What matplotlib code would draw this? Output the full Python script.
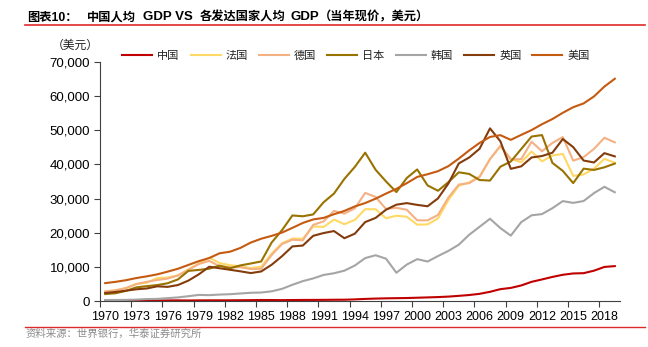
import matplotlib
matplotlib.use("Agg")
import matplotlib.pyplot as plt
from matplotlib.ticker import FuncFormatter, FixedLocator, NullFormatter
from matplotlib.lines import Line2D

years = list(range(1970, 2020))

china = [113, 119, 132, 157, 160, 178, 165, 185, 156, 183, 195, 197, 203, 225, 251, 294, 282, 252, 284, 311,
         318, 333, 366, 377, 473, 610, 709, 782, 829, 873, 959, 1053, 1149, 1289, 1509, 1753, 2099, 2694, 3468, 3832,
         4550, 5618, 6317, 7051, 7679, 8067, 8148, 8879, 9977, 10217]
france = [2858, 3116, 3812, 4998, 5343, 6728, 6884, 7525, 9247, 11018, 12713, 11106, 10496, 10155, 9656, 10047, 13892, 16918, 18287, 18255,
          21832, 21695, 23852, 22489, 23751, 26890, 26871, 24229, 24975, 24674, 22364, 22433, 24177, 29568, 33741, 34760, 36470, 41508, 45413, 41575,
          40638, 43791, 40875, 42603, 43069, 36653, 37063, 38781, 41631, 40494]
germany = [2761, 3141, 3767, 4968, 5614, 6152, 6564, 7466, 9128, 10827, 11749, 10209, 9914, 9879, 9358, 9429, 13464, 16677, 17941, 17765,
           22304, 23305, 26392, 25592, 27133, 31658, 30487, 26964, 27289, 26726, 23636, 23608, 25205, 30310, 34107, 34520, 36354, 41587, 45427, 41486,
           41532, 46645, 43858, 46286, 48024, 41103, 42136, 44553, 47811, 46468]
japan = [2037, 2272, 2967, 3997, 4354, 4659, 5197, 6335, 8821, 9105, 9463, 10361, 9578, 10425, 10984, 11585, 17112, 20745, 25052, 24813,
         25359, 28925, 31465, 35766, 39269, 43440, 38437, 35022, 31903, 36027, 38532, 33846, 32289, 34808, 37689, 37218, 35434, 35275, 39339, 40855,
         44508, 48168, 48603, 40454, 38109, 34524, 38761, 38387, 39159, 40247]
korea = [279, 301, 324, 406, 563, 617, 834, 1055, 1406, 1784, 1715, 1883, 1993, 2199, 2413, 2482, 2835, 3555, 4749, 5817,
         6610, 7637, 8127, 8885, 10385, 12565, 13403, 12398, 8282, 10672, 12257, 11561, 13165, 14673, 16497, 19403, 21743, 24086, 21350, 19144,
         23087, 25096, 25459, 27180, 29253, 28737, 29274, 31601, 33447, 31846]
uk = [2348, 2650, 3030, 3426, 3666, 4300, 4138, 4681, 5977, 7805, 10032, 9599, 9146, 8691, 8179, 8652, 10612, 13119, 15987, 16239,
      19095, 19901, 20487, 18389, 19709, 23123, 24332, 26734, 28214, 28670, 28150, 27744, 30057, 34419, 40290, 42030, 44599, 50566, 46767, 38713,
      39436, 42039, 42463, 43426, 47440, 45071, 41146, 40572, 43306, 42354]
usa = [5234, 5609, 6094, 6726, 7226, 7801, 8592, 9453, 10565, 11674, 12575, 13976, 14434, 15544, 17121, 18237, 19071, 20039, 21417, 22857,
       23889, 24342, 25419, 26387, 27695, 28691, 29968, 31459, 32854, 34515, 36335, 37133, 38023, 39497, 41712, 44115, 46299, 48050, 48570, 47195,
       48651, 50066, 51784, 53291, 55124, 56763, 57867, 59915, 62805, 65095]

series_names = ["中国", "法国", "德国", "日本", "韩国", "英国", "美国"]
series_values = [china, france, germany, japan, korea, uk, usa]
colors = ["#C00000", "#FFD966", "#F4B183", "#997300", "#A5A5A5", "#843C0C", "#C55A11"]

x_label_years = list(range(1970, 2019, 3))
y_ticks = list(range(0, 70001, 10000))

title_prefix = "图表10："
# title pieces: (text, is_latin, gap after in px)
title_parts = [("中国人均", False, 7), ("GDP VS", True, 7), ("各发达国家人均", False, 5),
               ("GDP", True, 0), ("（当年现价，美元）", False, 0)]
y_unit = "（美元）"
source = "资料来源：世界银行，华泰证券研究所"

CJK = ["Noto Sans CJK SC", "DejaVu Sans"]
NUM = ["Liberation Sans", "DejaVu Sans"]
TITLE = ["Liberation Sans", "Noto Sans CJK SC", "DejaVu Sans"]

W, H = 648, 347
fig = plt.figure(figsize=(W / 100, H / 100), dpi=100)
fig.patch.set_facecolor("white")

left, right, top, bottom = 100, 620, 62, 301
ax = fig.add_axes([left / W, 1 - bottom / H, (right - left) / W, (bottom - top) / H])

for name, vals, c in zip(series_names, series_values, colors):
    ax.plot(years, vals, color=c, lw=1.5, label=name, solid_joinstyle="round")

# category-style axis: ticks at category boundaries, labels at category centres
ax.set_xlim(years[0] - 0.5, years[-1] + 0.5)
ax.set_ylim(0, 70000)
ax.xaxis.set_major_locator(FixedLocator([y - 0.5 for y in x_label_years]))
ax.xaxis.set_major_formatter(NullFormatter())
ax.xaxis.set_minor_locator(FixedLocator(x_label_years))
ax.xaxis.set_minor_formatter(FuncFormatter(lambda v, p: f"{int(round(v))}"))
ax.set_yticks(y_ticks)
ax.yaxis.set_major_formatter(FuncFormatter(lambda v, p: f"{int(v):,}"))
for s in ["top", "right"]:
    ax.spines[s].set_visible(False)
for s in ["left", "bottom"]:
    ax.spines[s].set_color("#404040")
    ax.spines[s].set_linewidth(0.8)
ax.tick_params(axis="both", which="major", direction="out", length=4, width=0.8, color="#404040",
               labelcolor="black")
ax.tick_params(axis="y", which="major", labelsize=9.5, pad=3)
ax.tick_params(axis="x", which="minor", length=0, labelsize=9, pad=7, labelcolor="black")
for lab in ax.get_xticklabels(minor=True) + ax.get_yticklabels():
    lab.set_fontfamily(NUM)

leg = ax.legend(loc="center", bbox_to_anchor=(356 / W, 1 - 55.5 / H),
                bbox_transform=fig.transFigure, ncol=7, frameon=False,
                handlelength=2.7, handletextpad=0.45, columnspacing=1.0,
                prop={"family": CJK, "size": 8})
for t in leg.get_texts():
    t.set_color("#222222")

fig.text(75 / W, 1 - 45 / H, y_unit, ha="center", va="center", fontsize=8.5, family=CJK, color="#222222")

# title, laid out piece by piece on a common baseline
base_y = 1 - 20.5 / H
fig.text(27 / W, base_y, title_prefix, ha="left", va="baseline", fontsize=8.8, family=TITLE, weight="bold")
fig.canvas.draw()
renderer = fig.canvas.get_renderer()
xpix = 87.0
for text, latin, gap in title_parts:
    t = fig.text(xpix / W, base_y, text, ha="left", va="baseline",
                 fontsize=9.5 if latin else 8.8, family=NUM if latin else CJK, weight="bold")
    bb = t.get_window_extent(renderer=renderer)
    xpix += bb.width + gap

fig.add_artist(Line2D([25 / W, 645 / W], [1 - 25 / H, 1 - 25 / H], color="#E02A2A", lw=1.2))
fig.add_artist(Line2D([25 / W, 645 / W], [1 - 326.5 / H, 1 - 326.5 / H], color="#E02A2A", lw=1.0))

fig.text(26 / W, 1 - 333.5 / H, source, ha="left", va="center", fontsize=7.5, family=CJK, color="#8C8C8C")

fig.savefig("out.png", dpi=100, facecolor="white")
